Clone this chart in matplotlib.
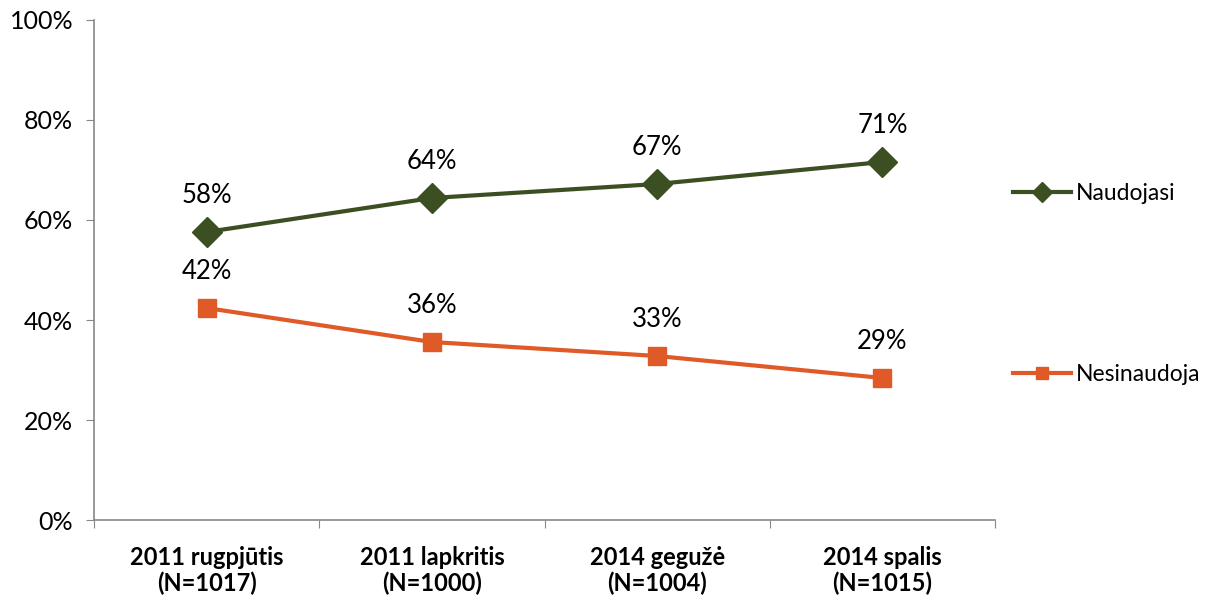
import matplotlib.pyplot as plt
from matplotlib.ticker import PercentFormatter

plt.rcParams['font.family'] = ['Lato', 'DejaVu Sans']

# Data
categories = ["2011 rugpjūtis\n(N=1017)", "2011 lapkritis\n(N=1000)",
              "2014 gegužė\n(N=1004)", "2014 spalis\n(N=1015)"]
naudojasi = [57.6, 64.4, 67.2, 71.6]
nesinaudoja = [42.4, 35.6, 32.8, 28.4]
labels_naud = ["58%", "64%", "67%", "71%"]
labels_nesi = ["42%", "36%", "33%", "29%"]

green = "#3b4f22"
orange = "#e05a28"

fig = plt.figure(figsize=(12.09, 6), dpi=100)
ax = fig.add_axes([0.0778, 0.1333, 0.7452, 0.8334])

x = list(range(len(categories)))
l1, = ax.plot(x, naudojasi, color=green, lw=3, marker="D", ms=15,
              label="Naudojasi")
l2, = ax.plot(x, nesinaudoja, color=orange, lw=3, marker="s", ms=13,
              label="Nesinaudoja")

for xi, v, t in zip(x, naudojasi, labels_naud):
    ax.annotate(t, (xi, v), xytext=(0, 26), textcoords="offset points",
                ha="center", va="center", fontsize=18.5)
for xi, v, t in zip(x, nesinaudoja, labels_nesi):
    ax.annotate(t, (xi, v), xytext=(0, 26), textcoords="offset points",
                ha="center", va="center", fontsize=18.5)

ax.set_ylim(0, 100)
ax.set_xlim(-0.5, len(categories) - 0.5)
ax.set_yticks(range(0, 101, 20))
ax.yaxis.set_major_formatter(PercentFormatter(decimals=0))
ax.tick_params(axis="y", labelsize=18, length=6, color="#888888", pad=9)

# category boundaries as major ticks, labels on minor ticks
ax.set_xticks([i - 0.5 for i in range(len(categories) + 1)])
ax.set_xticklabels([])
ax.set_xticks(x, minor=True)
ax.set_xticklabels(categories, minor=True, fontsize=17, fontweight="bold",
                   linespacing=1.1)
ax.tick_params(axis="x", which="major", length=6, color="#888888")
ax.tick_params(axis="x", which="minor", length=0, pad=19)

for s in ["top", "right"]:
    ax.spines[s].set_visible(False)
for s in ["left", "bottom"]:
    ax.spines[s].set_color("#888888")
    ax.spines[s].set_linewidth(1.2)

fig.legend(handles=[l1, l2], loc="upper left", bbox_to_anchor=(0.821, 0.730),
           frameon=False, fontsize=16.5, labelspacing=7.0, handlelength=2.5,
           handletextpad=0.25, markerscale=0.7)

fig.savefig("out.png", dpi=100)
